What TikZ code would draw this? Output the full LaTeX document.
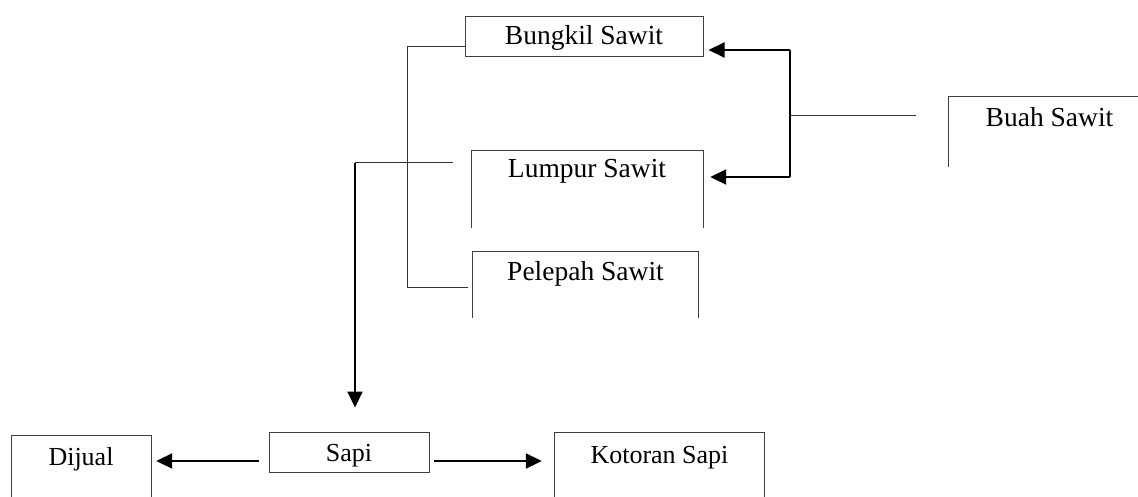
\documentclass[tikz,border=0pt]{standalone}
\usepackage{fontspec}
\setmainfont{Liberation Serif}
\usetikzlibrary{arrows.meta}
\begin{document}
\begin{tikzpicture}[x=1pt,y=-1pt,
  frame/.style={rectangle, inner sep=0pt, line width=1pt, draw=black!75},
  openframe/.style={rectangle, inner sep=0pt},
  boxline/.style={line width=1pt, draw=black!75},
  toplbl/.style={font=\fontsize{27.5}{30}\selectfont, anchor=base, inner sep=0pt},
  botlbl/.style={font=\fontsize{26}{28}\selectfont, anchor=base, inner sep=0pt},
  thinline/.style={line width=1pt, draw=black!80},
  thickline/.style={line width=2pt, draw=black},
  arr/.style={line width=2pt, draw=black, -{Triangle[length=16pt,width=15pt]}}
]
\useasboundingbox (0,0) rectangle (1138,497);

% boxes
\node[frame, minimum width=238pt, minimum height=40pt] (bungkil) at (584,37) {};
\node[toplbl] (tbungkil) at (584,45) {Bungkil Sawit};

\node[openframe, minimum width=231pt, minimum height=77pt] (lumpur) at (587.5,189.5) {};
\draw[boxline] (lumpur.south west) -- (lumpur.north west) -- (lumpur.north east) -- (lumpur.south east);
\node[toplbl] (tlumpur) at (587,178) {Lumpur Sawit};

\node[openframe, minimum width=225pt, minimum height=66pt] (pelepah) at (585.5,285) {};
\draw[boxline] (pelepah.south west) -- (pelepah.north west) -- (pelepah.north east) -- (pelepah.south east);
\node[toplbl] (tpelepah) at (585.5,280) {Pelepah Sawit};

\node[openframe, minimum width=189pt, minimum height=70pt] (buah) at (1043.5,132) {};
\draw[boxline] (buah.south west) -- (buah.north west) -- (buah.north east);
\node[toplbl] (tbuah) at (1049.5,127) {Buah Sawit};

\node[openframe, minimum width=139pt, minimum height=61pt] (dijual) at (81.5,466.5) {};
\draw[boxline] (dijual.south west) -- (dijual.north west) -- (dijual.north east) -- (dijual.south east);
\node[botlbl] (tdijual) at (81,465) {Dijual};

\node[frame, minimum width=160pt, minimum height=40pt] (sapi) at (349,452) {};
\node[botlbl] (tsapi) at (349,461) {Sapi};

\node[openframe, minimum width=209pt, minimum height=64pt] (kotoran) at (659.5,465) {};
\draw[boxline] (kotoran.south west) -- (kotoran.north west) -- (kotoran.north east) -- (kotoran.south east);
\node[botlbl] (tkotoran) at (659.5,463) {Kotoran Sapi};

% left bracket: Bungkil -- Pelepah
\coordinate (jb) at (407,47);
\coordinate (pe) at (468,287);
\draw[thinline] (bungkil.west |- jb) -- (jb) -- (jb |- pe) -- (pe);

% Lumpur line down to Sapi
\coordinate (le) at (453,163);
\coordinate (lc) at (355,163);
\coordinate (st) at ([yshift=24pt]sapi.north);
\draw[thinline] (le) -- (lc);
\draw[arr] (lc) -- (lc |- st);

% right bracket: Buah -> Bungkil, Lumpur
\coordinate (rb1) at (790,50);
\coordinate (rb2) at (790,177);
\coordinate (rbm) at (790,116);
\coordinate (bk) at (916,116);
\draw[thickline] (rb1) -- (rb2);
\draw[arr, shorten >=5pt] (rb1) -- (bungkil.east |- rb1);
\draw[arr, shorten >=7pt] (rb2) -- (lumpur.east |- rb2);
\draw[thinline] (rbm) -- (bk);

% bottom arrows
\coordinate (sy) at (0,461);
\draw[arr, shorten <=10pt, shorten >=5pt] (sapi.west |- sy) -- (dijual.east |- sy);
\draw[arr, shorten <=4pt, shorten >=13pt] (sapi.east |- sy) -- (kotoran.west |- sy);
\end{tikzpicture}
\end{document}
